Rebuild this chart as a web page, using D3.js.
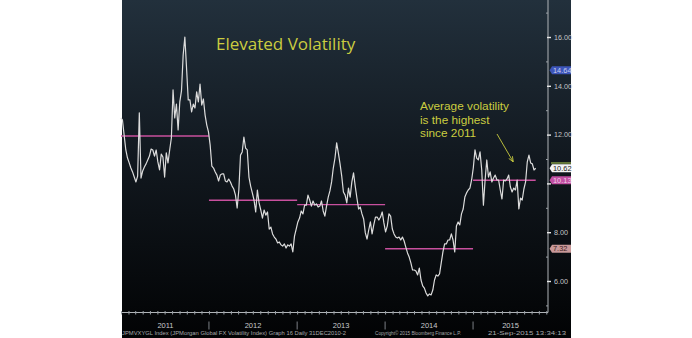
<!DOCTYPE html>
<html>
<head>
<meta charset="utf-8">
<script src="https://cdn.jsdelivr.net/npm/d3@7"></script>
<style>
  html, body { margin: 0; padding: 0; background: #ffffff; }
  svg { display: block; }
</style>
</head>
<body>
<svg id="chart" width="692" height="338"></svg>
<script>
// ---------------- DATA ----------------
// JPMorgan Global FX Volatility Index, weekly readings from 31-Dec-2010 to Sep-2015
const seriesStart = "2010-12-31";
const vol = [
12.68,12.60,11.98,11.37,11.04,10.84,10.63,10.47,10.26,10.06,
10.30,12.89,10.22,10.51,10.67,10.80,10.96,11.12,11.41,11.37,
11.12,11.37,10.88,10.55,11.20,11.08,10.26,11.25,10.84,11.37,
11.86,13.83,12.68,13.25,12.19,13.34,13.79,15.26,16.00,14.73,
13.42,13.42,12.93,13.25,13.09,13.75,13.34,14.07,13.21,13.46,
12.80,12.39,12.11,11.57,10.71,10.63,10.47,10.34,10.10,10.34,
10.39,10.39,10.10,10.06,10.18,10.06,9.89,9.77,9.52,8.99,
9.73,11.16,11.29,11.90,11.45,11.37,10.26,9.89,9.61,9.32,
8.83,9.73,9.20,8.91,8.58,8.91,8.70,8.83,8.13,8.21,
7.93,7.80,7.72,7.56,7.60,7.48,7.43,7.52,7.35,7.48,
7.43,7.52,7.19,7.84,8.13,8.42,8.58,8.87,8.75,9.11,
9.11,9.52,9.32,9.07,9.28,9.11,9.16,9.03,9.07,9.28,
8.87,8.66,9.07,9.44,9.69,10.06,10.63,11.04,11.66,11.25,
10.80,10.30,9.65,9.52,9.20,9.81,9.44,10.06,10.43,9.89,
9.40,8.95,9.03,8.75,8.54,7.97,7.72,8.09,8.42,7.93,
8.30,8.62,8.62,8.50,8.62,8.83,8.38,8.01,8.25,8.75,
8.66,8.13,7.93,7.80,7.76,7.80,7.68,7.80,7.64,7.39,
7.15,6.98,6.74,6.45,6.45,6.41,6.25,6.53,6.04,5.80,
5.71,5.51,5.39,5.47,5.43,5.63,6.04,6.25,6.20,6.29,
6.74,7.19,7.52,7.52,7.68,7.68,7.93,7.68,7.19,8.25,
8.42,8.30,8.75,8.95,9.44,9.61,9.73,9.81,10.14,10.63,
11.37,11.04,10.96,11.29,10.55,9.11,10.14,10.96,10.26,10.47,
10.06,10.22,10.34,10.14,10.14,9.73,9.36,10.14,10.10,10.18,
10.34,9.85,9.65,9.81,9.73,10.14,8.95,9.40,9.32,9.77,
10.06,10.88,11.16,10.84,10.80,10.55,10.62
];
const years = [2011, 2012, 2013, 2014, 2015];
const yearMeans = [11.94, 9.31, 9.13, 7.32, 10.13];
const yTicks = [6, 8, 10, 12, 14, 16];
const yTickLabels = ["6.00", "8.00", "", "12.00", "14.00", "16.00"];
const yMinorTicks = [5, 7, 9, 11, 13, 15, 17];
const tagValues = [14.64, 10.62, 10.13, 7.32];
const tagLabels = ["14.64", "10.62", "10.13", "7.32"];
const title = "Elevated Volatility";
const noteLines = ["Average volatility", "is the highest", "since 2011"];
const footerLeft = "JPMVXYGL Index (JPMorgan Global FX Volatility Index) Graph 16  Daily 31DEC2010-2";
const footerMid = "Copyright\u00A9 2015 Bloomberg Finance L.P.";
const footerRight = "21-Sep-2015 13:34:13";

// ---------------- LAYOUT ----------------
const svg = d3.select("#chart");
const panel = { x0: 122, x1: 571, y0: 0, y1: 338 };
const axisX = 548, axisBottom = 312.5;

const parse = d3.timeParse("%Y-%m-%d");
const start = parse(seriesStart);
const data = vol.map((v, i) => ({ date: d3.timeDay.offset(start, 7 * i), value: v }));
const lastDate = data[data.length - 1].date;

const x = d3.scaleTime()
  .domain([new Date(2011, 0, 1), new Date(2016, 0, 1)])
  .range([121, 561]);
const y = d3.scaleLinear().domain([6, 16]).range([281, 37]);

// background
const defs = svg.append("defs");
const grad = defs.append("linearGradient").attr("id", "bg")
  .attr("x1", 0).attr("y1", 0).attr("x2", 0).attr("y2", 1);
grad.append("stop").attr("offset", "0%").attr("stop-color", "#22303c");
grad.append("stop").attr("offset", "45%").attr("stop-color", "#121920");
grad.append("stop").attr("offset", "100%").attr("stop-color", "#020304");
svg.append("rect")
  .attr("x", panel.x0).attr("y", panel.y0)
  .attr("width", panel.x1 - panel.x0).attr("height", panel.y1 - panel.y0)
  .attr("fill", "url(#bg)");

// axes lines
svg.append("line").attr("x1", axisX).attr("x2", axisX).attr("y1", 0).attr("y2", axisBottom)
  .attr("stroke", "#b0b4b8").attr("stroke-width", 1);
svg.append("line").attr("x1", panel.x0).attr("x2", axisX).attr("y1", axisBottom).attr("y2", axisBottom)
  .attr("stroke", "#b0b4b8").attr("stroke-width", 1);

// y axis major
const yAxisG = svg.append("g").attr("transform", `translate(${axisX},0)`)
  .call(d3.axisRight(y).tickValues(yTicks)
    .tickFormat((d, i) => yTickLabels[i]).tickSize(3).tickPadding(3));
yAxisG.select(".domain").remove();
yAxisG.selectAll(".tick line").attr("x1", -1).attr("stroke", "#e8e8e8").attr("stroke-width", 1.4);
yAxisG.selectAll(".tick text")
  .attr("fill", "#c4c6c8").attr("font-family", "Liberation Sans, Arial, sans-serif")
  .attr("font-size", 7.2);

// y axis minor
const yMinorG = svg.append("g").attr("transform", `translate(${axisX},0)`)
  .call(d3.axisLeft(y).tickValues(yMinorTicks).tickFormat("").tickSize(2));
yMinorG.select(".domain").remove();
yMinorG.selectAll(".tick line").attr("stroke", "#9aa0a6");

// x axis monthly ticks
const months = d3.timeMonth.range(new Date(2011, 0, 1), x.invert(axisX));
const xAxisG = svg.append("g").attr("transform", `translate(0,${axisBottom})`)
  .call(d3.axisBottom(x).tickValues(months).tickFormat("").tickSize(2));
xAxisG.select(".domain").remove();
xAxisG.selectAll(".tick line").attr("y1", -1.5).attr("stroke", "#9aa0a6");

// year labels and separators
years.forEach((yr) => {
  const a = Math.max(x(new Date(yr, 0, 1)), panel.x0);
  const b = Math.min(x(new Date(yr + 1, 0, 1)), axisX);
  svg.append("text").attr("x", (a + b) / 2).attr("y", 327.5)
    .attr("text-anchor", "middle").attr("fill", "#c8cacc")
    .attr("font-family", "Liberation Sans, Arial, sans-serif").attr("font-size", 7.5)
    .text(yr);
  if (yr > years[0]) {
    svg.append("line").attr("x1", a).attr("x2", a).attr("y1", 321.5).attr("y2", 329.5)
      .attr("stroke", "#9aa0a6").attr("stroke-width", 0.8);
  }
});

// yearly average lines
years.forEach((yr, i) => {
  const d0 = new Date(yr, 0, 1);
  const d1 = d3.min([new Date(yr + 1, 0, 1), lastDate]);
  svg.append("line")
    .attr("x1", x(d0)).attr("x2", x(d1))
    .attr("y1", y(yearMeans[i])).attr("y2", y(yearMeans[i]))
    .attr("stroke", "#c8509e").attr("stroke-width", 1.4);
});

// series
const line = d3.line().x(d => x(d.date)).y(d => y(d.value));
svg.append("path").datum(data).attr("d", line)
  .attr("fill", "none").attr("stroke", "#dcdcdc").attr("stroke-width", 1.2)
  .attr("stroke-linejoin", "round");

// tags on the right axis
const tagFill = ["#3d55b8", "#f4f4f4", "#c24fa2", "#c89898"];
const tagText = ["#c8d0f0", "#202020", "#f0d0e8", "#402020"];
tagValues.forEach((v, i) => {
  const cy = y(v);
  svg.append("path")
    .attr("d", `M552,${cy - 4}H${panel.x1}V${cy + 4}H552L549.5,${cy}Z`)
    .attr("fill", tagFill[i]);
  svg.append("text").attr("x", 553).attr("y", cy + 2.6)
    .attr("fill", tagText[i]).attr("font-family", "Liberation Sans, Arial, sans-serif")
    .attr("font-size", 7.4).text(tagLabels[i]);
});
// green marker above the last-value tag
svg.append("line").attr("x1", 551).attr("x2", panel.x1)
  .attr("y1", y(tagValues[1]) - 5.3).attr("y2", y(tagValues[1]) - 5.3)
  .attr("stroke", "#8ea848").attr("stroke-width", 1.3);

// title & annotation
svg.append("text").attr("x", 216).attr("y", 49.5)
  .attr("fill", "#cbcd40").attr("font-family", "Open Sans, sans-serif")
  .attr("font-size", 17).text(title);
noteLines.forEach((t, i) => {
  svg.append("text").attr("x", 420).attr("y", 109.8 + i * 13.7)
    .attr("fill", "#cbcd40").attr("font-family", "Liberation Sans, Arial, sans-serif")
    .attr("font-size", 11.8).text(t);
});
defs.append("marker").attr("id", "arr").attr("viewBox", "0 0 10 10")
  .attr("refX", 9).attr("refY", 5).attr("markerWidth", 6).attr("markerHeight", 6)
  .attr("orient", "auto")
  .append("path").attr("d", "M0,1L10,5L0,9").attr("fill", "none")
  .attr("stroke", "#cbcd40").attr("stroke-width", 1.5);
svg.append("line").attr("x1", 497).attr("y1", 134).attr("x2", 513).attr("y2", 161.5)
  .attr("stroke", "#cbcd40").attr("stroke-width", 0.9).attr("marker-end", "url(#arr)");

// footer
const foot = [[footerLeft, 122, 224], [footerMid, 375, 86], [footerRight, 488, 78]];
foot.forEach(([t, fx, w]) => {
  svg.append("text").attr("x", fx).attr("y", 335.3)
    .attr("fill", "#a8aaac").attr("font-family", "Liberation Sans, Arial, sans-serif")
    .attr("font-size", 6).attr("textLength", w).attr("lengthAdjust", "spacingAndGlyphs")
    .text(t);
});
</script>
</body>
</html>
